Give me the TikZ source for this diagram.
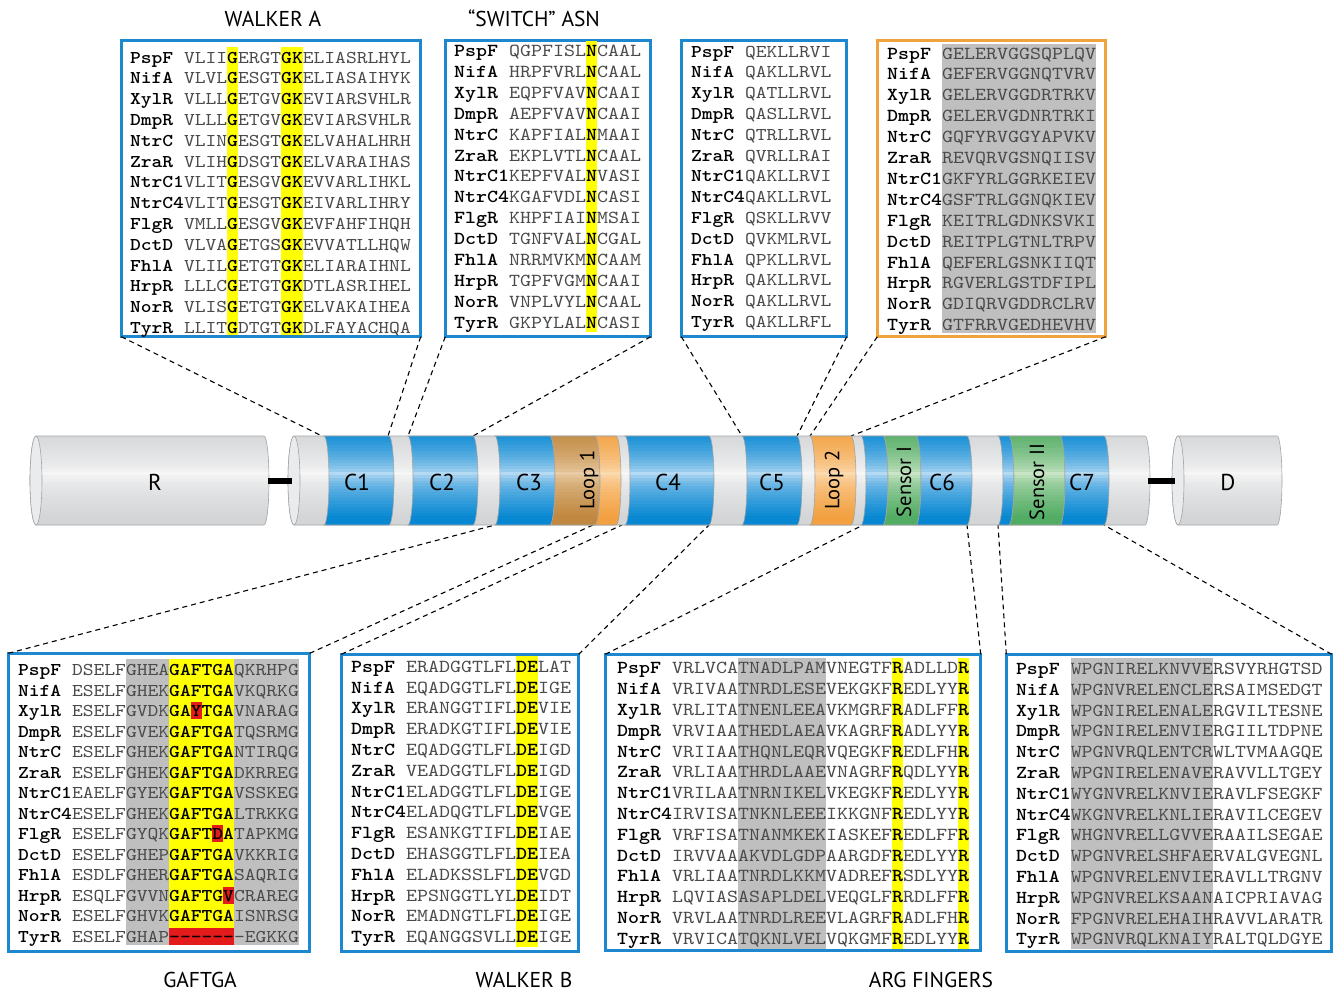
\documentclass[tikz,border=0pt]{standalone}
\usepackage{fontspec}
\newfontfamily\labfont{PT Sans}
\newfontfamily\seqfam{lmmono10-regular}[Extension=.otf,BoldFont=lmmonolt10-bold,FakeStretch=1.142857]

\definecolor{panelblue}{HTML}{1D87CF}
\definecolor{panelorange}{HTML}{F0A23C}
\definecolor{hlyellow}{HTML}{FFFF00}
\definecolor{hlred}{HTML}{E41B1B}
\definecolor{hlgray}{HTML}{BFBFBF}
\definecolor{seqgray}{HTML}{4A4A4A}
\definecolor{edgegray}{HTML}{A2A4A6}
\definecolor{facegray}{HTML}{E9EBEC}
\definecolor{bluedark}{HTML}{0888D2}
\definecolor{bluelight}{HTML}{BDDDF4}
\definecolor{graydark}{HTML}{D3D5D7}
\definecolor{graylight}{HTML}{F8F8F8}
\definecolor{browndark}{HTML}{C08840}
\definecolor{brownlight}{HTML}{EBCFAA}
\definecolor{orangedark}{HTML}{F2A040}
\definecolor{orangelight}{HTML}{FCDDB6}
\definecolor{greendark}{HTML}{52AC64}
\definecolor{greenlight}{HTML}{CFE8CA}

% bold black residue inside an alignment row
\newcommand\hb[1]{{\bfseries\color{black}#1}}

% one alignment block: key, x of names, character pitch, first row y, row pitch, rows
\newcommand\seqrows[6]{%
  \pgfmathsetmacro\seqx{#2+5*#3}%
  \pgfmathsetmacro\seqfs{#3/0.6}%
  \foreach \nm/\sq [count=\i from 0] in {#6}{%
    \node[seqtext, font=\seqfam\fontsize{\seqfs}{\seqfs}\selectfont] (#1n\i) at (#2,{#4+\i*#5+5.5}) {\bfseries\nm};
    \node[seqtext, text=seqgray, font=\seqfam\fontsize{\seqfs}{\seqfs}\selectfont] (#1s\i) at (\seqx,{#4+\i*#5+5.5}) {\sq};
  }}

% horizontal strips giving the tube its rounded look: x from, x to, edge colour, centre colour
\newcommand\tubestrips[4]{%
  \foreach \k in {0,...,29}{%
    \pgfmathsetmacro\pp{100*min(1,pow(abs((\k+0.5)/30-0.42)/0.5,0.6))}%
    \fill[#3!\pp!#4] ({#1},{436+\k*89/30}) rectangle ({#2},{436+(\k+1)*89/30+0.5});
  }}

% one band of the domain tube between two ring boundaries
\newcommand\bandpath[2]{(#1,436)
    arc[start angle=90,end angle=-90,x radius=5pt,y radius=44.5pt] -- (#2,525)
    arc[start angle=-90,end angle=90,x radius=5pt,y radius=44.5pt] -- cycle}
\newcommand\band[4]{%
  \begin{scope}
    \clip \bandpath{#1}{#2};
    \tubestrips{#1-8}{#2+8}{#3}{#4}
  \end{scope}
  \draw[draw=edgegray, line width=0.6pt] \bandpath{#1}{#2};}

% a closed tube: left face centre x, right end x
\newcommand\tubepath[2]{(#1,436) -- (#2,436)
    arc[start angle=90,end angle=-90,x radius=5pt,y radius=44.5pt] -- (#1,525)
    arc[start angle=270,end angle=90,x radius=6pt,y radius=44.5pt] -- cycle}
\newcommand\tube[2]{%
  \begin{scope}
    \clip \tubepath{#1}{#2};
    \tubestrips{#1-8}{#2+8}{graydark}{graylight}
  \end{scope}
  \draw[draw=edgegray, line width=0.6pt] \tubepath{#1}{#2};
  \filldraw[fill=facegray, draw=edgegray, line width=0.6pt] (#1,480.5) ellipse[x radius=6pt,y radius=44.5pt];}

\begin{document}
\begin{tikzpicture}[x=1pt,y=-1pt,
  panel/.style={draw=panelblue, line width=2.6pt, fill=white, inner sep=0pt, outer sep=0pt},
  seqtext/.style={anchor=base west, inner sep=0pt, outer sep=0pt},
  dashline/.style={black, line width=1.1pt, dash pattern=on 5pt off 4pt},
  linker/.style={black, line width=6.5pt},
  barlab/.style={font=\labfont\fontsize{23}{26}\selectfont, inner sep=0pt},
  rotlab/.style={font=\labfont\fontsize{20.5}{24}\selectfont, inner sep=0pt, rotate=90},
  title/.style={font=\labfont\fontsize{21.5}{24}\selectfont, anchor=base, inner sep=0pt}]
\useasboundingbox (0,0) rectangle (1341,991);

% ---------- alignment panels ----------
\node[panel, minimum width=299.4, minimum height=296.4] (wa) at (271,188.5) {};
\node[panel, minimum width=205.4, minimum height=296.4] (sw) at (548,188.5) {};
\node[panel, minimum width=165.4, minimum height=296.4] (p3) at (764,188.5) {};
\node[panel, draw=panelorange, minimum width=228.4, minimum height=296.4] (p4) at (991.5,188.5) {};
\node[panel, minimum width=301.4, minimum height=298.4] (gaf) at (159,802.5) {};
\node[panel, minimum width=237.4, minimum height=297.4] (wb) at (460,803) {};
\node[panel, minimum width=375.4, minimum height=296.4] (arg) at (793,802.5) {};
\node[panel, minimum width=325.4, minimum height=297.4] (rt) at (1169,803) {};

% ---------- conserved columns ----------
\fill[hlyellow] (227.2,47) rectangle (238,335);
\fill[hlyellow] (281.2,47) rectangle (302.8,335);
\fill[hlyellow] (586,41) rectangle (597,332);
\fill[hlgray] (942,44) rectangle (1096,333);
\fill[hlgray] (126,659) rectangle (298.8,945);
\fill[hlyellow] (169.2,659) rectangle (234,945);
\fill[hlred] (190.8,702) rectangle (201.6,719);
\fill[hlred] (212.4,825) rectangle (223.2,842);
\fill[hlred] (223.2,886.5) rectangle (234,903.5);
\fill[hlred] (169.2,927.5) rectangle (234,945);
\fill[hlyellow] (516,656) rectangle (538,947);
\fill[hlgray] (738,658) rectangle (826,949);
\fill[hlyellow] (892,658) rectangle (903,949);
\fill[hlyellow] (958,658) rectangle (969,949);
\fill[hlgray] (1070.75,658) rectangle (1213.1,949);

% ---------- sequences ----------
\seqrows{wa}{130}{10.8}{57.5}{20.8}{
 PspF/VLII\hb{G}ERGT\hb{GK}ELIASRLHYL,
 NifA/VLVL\hb{G}ESGT\hb{GK}ELIASAIHYK,
 XylR/VLLL\hb{G}ETGV\hb{GK}EVIARSVHLR,
 DmpR/VLLL\hb{G}ETGV\hb{GK}EVIARSVHLR,
 NtrC/VLIN\hb{G}ESGT\hb{GK}ELVAHALHRH,
 ZraR/VLIH\hb{G}DSGT\hb{GK}ELVARAIHAS,
 NtrC1/VLIT\hb{G}ESGV\hb{GK}EVVARLIHKL,
 NtrC4/VLIT\hb{G}ESGT\hb{GK}EIVARLIHRY,
 FlgR/VMLL\hb{G}ESGV\hb{GK}EVFAHFIHQH,
 DctD/VLVA\hb{G}ETGS\hb{GK}EVVATLLHQW,
 FhlA/VLIL\hb{G}ETGT\hb{GK}ELIARAIHNL,
 HrpR/LLLC\hb{G}ETGT\hb{GK}DTLASRIHEL,
 NorR/VLIS\hb{G}ETGT\hb{GK}ELVAKAIHEA,
 TyrR/LLIT\hb{G}DTGT\hb{GK}DLFAYACHQA}

\seqrows{sw}{454}{11}{51}{20.9}{
 PspF/QGPFISL\hb{N}CAAL,
 NifA/HRPFVRL\hb{N}CAAL,
 XylR/EQPFVAV\hb{N}CAAI,
 DmpR/AEPFVAV\hb{N}CAAI,
 NtrC/KAPFIAL\hb{N}MAAI,
 ZraR/EKPLVTL\hb{N}CAAL,
 NtrC1/KEPFVAL\hb{N}VASI,
 NtrC4/KGAFVDL\hb{N}CASI,
 FlgR/KHPFIAI\hb{N}MSAI,
 DctD/TGNFVAL\hb{N}CGAL,
 FhlA/NRRMVKM\hb{N}CAAM,
 HrpR/TGPFVGM\hb{N}CAAI,
 NorR/VNPLVYL\hb{N}CAAL,
 TyrR/GKPYLAL\hb{N}CASI}

\seqrows{pt}{691}{10.8}{51.5}{20.8}{
 PspF/QEKLLRVI,
 NifA/QAKLLRVL,
 XylR/QATLLRVL,
 DmpR/QASLLRVL,
 NtrC/QTRLLRVL,
 ZraR/QVRLLRAI,
 NtrC1/QAKLLRVI,
 NtrC4/QAKLLRVL,
 FlgR/QSKLLRVV,
 DctD/QVKMLRVL,
 FhlA/QPKLLRVL,
 HrpR/QAKLLRVL,
 NorR/QAKLLRVL,
 TyrR/QAKLLRFL}

\seqrows{pf}{887}{11}{53.5}{20.9}{
 PspF/GELERVGGSQPLQV,
 NifA/GEFERVGGNQTVRV,
 XylR/GELERVGGDRTRKV,
 DmpR/GELERVGDNRTRKI,
 NtrC/GQFYRVGGYAPVKV,
 ZraR/REVQRVGSNQIISV,
 NtrC1/GKFYRLGGRKEIEV,
 NtrC4/GSFTRLGGNQKIEV,
 FlgR/KEITRLGDNKSVKI,
 DctD/REITPLGTNLTRPV,
 FhlA/QEFERLGSNKIIQT,
 HrpR/RGVERLGSTDFIPL,
 NorR/GDIQRVGDDRCLRV,
 TyrR/GTFRRVGEDHEVHV}

\seqrows{ga}{18}{10.8}{670}{20.5}{
 PspF/DSELFGHEA\hb{GAFTGA}QKRHPG,
 NifA/ESELFGHEK\hb{GAFTGA}VKQRKG,
 XylR/ESELFGVDK\hb{GAYTGA}VNARAG,
 DmpR/ESELFGVEK\hb{GAFTGA}TQSRMG,
 NtrC/ESELFGHEK\hb{GAFTGA}NTIRQG,
 ZraR/ESELFGHEK\hb{GAFTGA}DKRREG,
 NtrC1/EAELFGYEK\hb{GAFTGA}VSSKEG,
 NtrC4/ESELFGHEK\hb{GAFTGA}LTRKKG,
 FlgR/ESELFGYQK\hb{GAFTDA}TAPKMG,
 DctD/ESELFGHEP\hb{GAFTGA}VKKRIG,
 FhlA/ESDLFGHER\hb{GAFTGA}SAQRIG,
 HrpR/ESQLFGVVN\hb{GAFTGV}CRAREG,
 NorR/ESELFGHVK\hb{GAFTGA}ISNRSG,
 TyrR/ESELFGHAP\hb{-{}-{}-{}-{}-{}-}{}-EGKKG}

\seqrows{wbk}{351}{11}{666.7}{20.8}{
 PspF/ERADGGTLFL\hb{DE}LAT,
 NifA/EQADGGTLFL\hb{DE}IGE,
 XylR/ERANGGTIFL\hb{DE}VIE,
 DmpR/ERADKGTIFL\hb{DE}VIE,
 NtrC/EQADGGTLFL\hb{DE}IGD,
 ZraR/VEADGGTLFL\hb{DE}IGD,
 NtrC1/ELADGGTLFL\hb{DE}IGE,
 NtrC4/ELADQGTLFL\hb{DE}VGE,
 FlgR/ESANKGTIFL\hb{DE}IAE,
 DctD/EHASGGTLFL\hb{DE}IEA,
 FhlA/ELADKSSLFL\hb{DE}VGD,
 HrpR/EPSNGGTLYL\hb{DE}IDT,
 NorR/EMADNGTLFL\hb{DE}IGE,
 TyrR/EQANGGSVLL\hb{DE}IGE}

\seqrows{ar}{617}{11}{668.3}{20.8}{
 PspF/VRLVCATNADLPAMVNEGTF\hb{R}ADLLD\hb{R},
 NifA/VRIVAATNRDLESEVEKGKF\hb{R}EDLYY\hb{R},
 XylR/VRLITATNENLEEAVKMGRF\hb{R}ADLFF\hb{R},
 DmpR/VRVIAATHEDLAEAVKAGRF\hb{R}ADLYY\hb{R},
 NtrC/VRIIAATHQNLEQRVQEGKF\hb{R}EDLFH\hb{R},
 ZraR/VRLIAATHRDLAAEVNAGRF\hb{R}QDLYY\hb{R},
 NtrC1/VRILAATNRNIKELVKEGKF\hb{R}EDLYY\hb{R},
 NtrC4/IRVISATNKNLEEEIKKGNF\hb{R}EDLYY\hb{R},
 FlgR/VRFISATNANMKEKIASKEF\hb{R}EDLFF\hb{R},
 DctD/IRVVAAAKVDLGDPAARGDF\hb{R}EDLYY\hb{R},
 FhlA/VRLIAATNRDLKKMVADREF\hb{R}SDLYY\hb{R},
 HrpR/LQVIASASAPLDELVEQGLF\hb{R}RDLFF\hb{R},
 NorR/VRVLAATNRDLREEVLAGRF\hb{R}ADLFH\hb{R},
 TyrR/VRVICATQKNLVELVQKGMF\hb{R}EDLYY\hb{R}}

\seqrows{rs}{1016}{10.95}{669}{20.8}{
 PspF/WPGNIRELKNVVERSVYRHGTSD,
 NifA/WPGNVRELENCLERSAIMSEDGT,
 XylR/WPGNIRELENALERGVILTESNE,
 DmpR/WPGNIRELENVIERGIILTDPNE,
 NtrC/WPGNVRQLENTCRWLTVMAAGQE,
 ZraR/WPGNIRELENAVERAVVLLTGEY,
 NtrC1/WYGNVRELKNVIERAVLFSEGKF,
 NtrC4/WKGNVRELKNLIERAVILCEGEV,
 FlgR/WHGNVRELLGVVERAAILSEGAE,
 DctD/WPGNVRELSHFAERVALGVEGNL,
 FhlA/WPGNVRELENVIERAVLLTRGNV,
 HrpR/WPGNVRELKSAANAICPRIAVAG,
 NorR/FPGNVRELEHAIHRAVVLARATR,
 TyrR/WPGNVRQLKNAIYRALTQLDGYE}

% ---------- attachment points on the domain bar ----------
\coordinate (tA1) at (322,436);
\coordinate (tA2) at (388,436);
\coordinate (tB1) at (408,436);
\coordinate (tB2) at (473,436);
\coordinate (tC1) at (742,436);
\coordinate (tC2) at (797,436);
\coordinate (tD1) at (810,436);
\coordinate (tD2) at (851,436);
\coordinate (bA1) at (495,525);
\coordinate (bA2) at (593,525);
\coordinate (bB1) at (622,525);
\coordinate (bB2) at (709,525);
\coordinate (bC1) at (863,525);
\coordinate (bC2) at (967,525);
\coordinate (bD1) at (998,525);
\coordinate (bD2) at (1104,525);

\draw[dashline] (wa.south west) -- (tA1);
\draw[dashline] (wa.south east) -- (tA2);
\draw[dashline] (sw.south west) -- (tB1);
\draw[dashline] (sw.south east) -- (tB2);
\draw[dashline] (p3.south west) -- (tC1);
\draw[dashline] (p3.south east) -- (tC2);
\draw[dashline] (p4.south west) -- (tD1);
\draw[dashline] (p4.south east) -- (tD2);
\draw[dashline] (gaf.north west) -- (bA1);
\draw[dashline] (gaf.north east) -- (bA2);
\draw[dashline] (wb.north west) -- (bB1);
\draw[dashline] (wb.north east) -- (bB2);
\draw[dashline] (arg.north west) -- (bC1);
\draw[dashline] (arg.north east) -- (bC2);
\draw[dashline] (rt.north west) -- (bD1);
\draw[dashline] (rt.north east) -- (bD2);

% ---------- domain bar ----------
\tube{36}{264}
\tube{1178}{1277}
\begin{scope}
  \clip \tubepath{294}{1145};
  \tubestrips{280}{1160}{graydark}{graylight}
\end{scope}
\draw[draw=edgegray, line width=0.6pt] \tubepath{294}{1145};
\band{324}{389}{bluedark}{bluelight}
\band{408}{473}{bluedark}{bluelight}
\band{495}{550}{bluedark}{bluelight}
\band{550}{595}{browndark}{brownlight}
\band{595}{616}{orangedark}{orangelight}
\band{625}{709}{bluedark}{bluelight}
\band{742}{797}{bluedark}{bluelight}
\band{810}{851}{orangedark}{orangelight}
\band{861}{883}{bluedark}{bluelight}
\band{883}{916}{greendark}{greenlight}
\band{916}{967}{bluedark}{bluelight}
\band{998}{1009}{bluedark}{bluelight}
\band{1009}{1060}{greendark}{greenlight}
\band{1060}{1104}{bluedark}{bluelight}
\filldraw[fill=facegray, draw=edgegray, line width=0.6pt] (294,480.5) ellipse[x radius=6pt,y radius=44.5pt];

\coordinate (rEnd) at (268,481);
\coordinate (mStart) at (292,481);
\coordinate (mEnd) at (1148,481);
\coordinate (dStart) at (1175,481);
\draw[linker] (rEnd) -- (mStart);
\draw[linker] (mEnd) -- (dStart);

\node[barlab] (lR) at (155,482) {R};
\node[barlab] (lC1) at (357,482) {C1};
\node[barlab] (lC2) at (442,482) {C2};
\node[barlab] (lC3) at (529,482) {C3};
\node[rotlab] (lL1) at (589,480) {Loop 1};
\node[barlab] (lC4) at (668,482) {C4};
\node[barlab] (lC5) at (772,482) {C5};
\node[rotlab] (lL2) at (834,480) {Loop 2};
\node[rotlab] (lS1) at (904,482) {Sensor I};
\node[barlab] (lC6) at (942,482) {C6};
\node[rotlab] (lS2) at (1037,482) {Sensor II};
\node[barlab] (lC7) at (1082,482) {C7};
\node[barlab] (lD) at (1228,482) {D};

% ---------- motif titles ----------
\node[title] (ttWA) at (273,26) {WALKER A};
\node[title] (ttSW) at (534,26) {“SWITCH” ASN};
\node[title] (ttGA) at (200,987) {GAFTGA};
\node[title] (ttWB) at (524,987) {WALKER B};
\node[title] (ttAR) at (931,987) {ARG FINGERS};
\end{tikzpicture}
\end{document}
